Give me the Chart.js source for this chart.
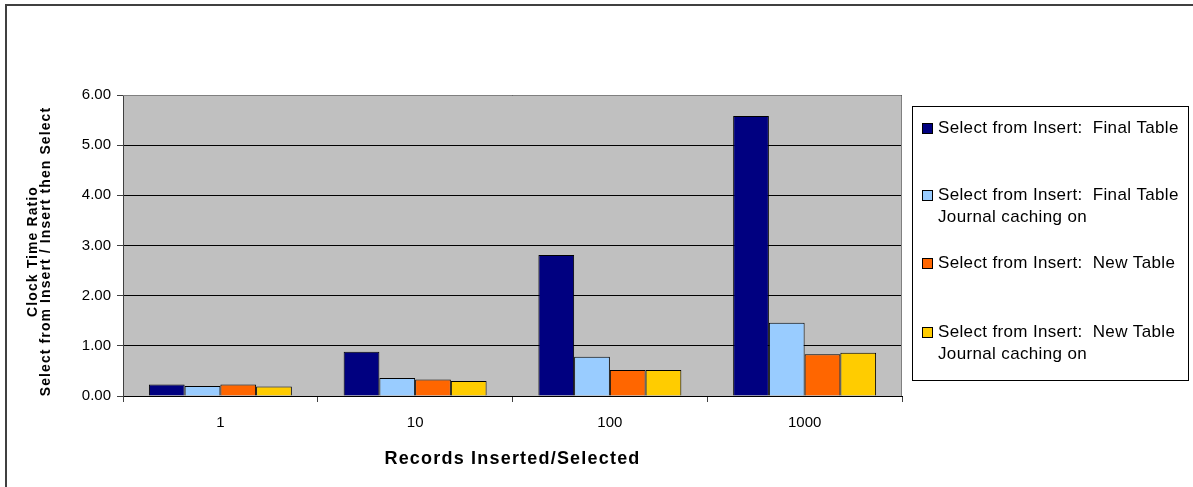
<!DOCTYPE html>
<html><head><meta charset="utf-8">
<script src="https://cdn.jsdelivr.net/npm/chart.js@4"></script>
<style>html,body{margin:0;padding:0;background:#fff;overflow:hidden}#wrap{width:1193px;height:487px;position:relative}</style>
</head><body><div id="wrap"><canvas id="c" width="1193" height="487"></canvas></div>
<script>
const categories = ['1', '10', '100', '1000'];
const seriesNames = [
  ['Select from Insert:  Final Table'],
  ['Select from Insert:  Final Table', 'Journal caching on'],
  ['Select from Insert:  New Table'],
  ['Select from Insert:  New Table', 'Journal caching on']
];
const finalTable = [0.23, 0.88, 2.81, 5.58];
const finalTableJournal = [0.20, 0.36, 0.78, 1.46];
const newTable = [0.23, 0.33, 0.52, 0.83];
const newTableJournal = [0.19, 0.30, 0.52, 0.86];
const seriesColors = ['#000080', '#99CCFF', '#FF6600', '#FFCC00'];
const yTicks = [0, 1, 2, 3, 4, 5, 6];
const yTitle = ['Clock Time Ratio', 'Select from Insert / Insert then Select'];
const xTitle = 'Records Inserted/Selected';

const FONT = '"Liberation Sans", Arial, sans-serif';
const seriesValues = [finalTable, finalTableJournal, newTable, newTableJournal];

const decor = {
  id: 'decor',
  beforeDraw(chart) {
    const { ctx, chartArea: a } = chart;
    ctx.save();
    ctx.fillStyle = '#fff';
    ctx.fillRect(0, 0, chart.width, chart.height);
    ctx.fillStyle = '#C0C0C0';
    ctx.fillRect(a.left, a.top, a.right - a.left, a.bottom - a.top);
    ctx.restore();
  },
  afterDraw(chart) {
    const { ctx, chartArea: a } = chart;
    ctx.save();
    // plot area top/right border
    ctx.strokeStyle = '#808080';
    ctx.lineWidth = 1;
    ctx.beginPath();
    ctx.moveTo(a.left, a.top + 0.5);
    ctx.lineTo(a.right - 0.5, a.top + 0.5);
    ctx.lineTo(a.right - 0.5, a.bottom);
    ctx.stroke();
    // outer frame
    ctx.strokeStyle = '#404040';
    ctx.lineWidth = 2;
    ctx.beginPath();
    ctx.moveTo(6, chart.height);
    ctx.lineTo(6, 5);
    ctx.lineTo(chart.width, 5);
    ctx.stroke();

    ctx.fillStyle = '#000';
    // x axis title
    ctx.font = 'bold 18px ' + FONT;
    ctx.letterSpacing = '1.2px';
    ctx.textAlign = 'center';
    ctx.textBaseline = 'middle';
    ctx.fillText(xTitle, (a.left + a.right) / 2, 459);
    // y axis title
    ctx.font = 'bold 14px ' + FONT;
    ctx.letterSpacing = '1.1px';
    const yc = (a.top + a.bottom) / 2 + 6;
    yTitle.forEach((t, i) => {
      ctx.save();
      ctx.translate(33 + i * 13.5, yc);
      ctx.rotate(-Math.PI / 2);
      ctx.fillText(t, 0, 0);
      ctx.restore();
    });

    // legend
    ctx.letterSpacing = '0.35px';
    ctx.lineWidth = 1;
    ctx.strokeStyle = '#000';
    ctx.strokeRect(912.5, 106.5, 276, 274);
    ctx.font = '17px ' + FONT;
    ctx.textAlign = 'left';
    const rows = [128, 195, 263, 332];
    seriesNames.forEach((lines, i) => {
      const y = rows[i];
      ctx.fillStyle = seriesColors[i];
      ctx.fillRect(922, y - 5, 11, 11);
      ctx.strokeStyle = '#000';
      ctx.strokeRect(922.5, y - 4.5, 10, 10);
      ctx.fillStyle = '#000';
      lines.forEach((ln, j) => ctx.fillText(ln, 938, y + j * 22.5));
    });
    ctx.restore();
  }
};

new Chart(document.getElementById('c'), {
  type: 'bar',
  data: {
    labels: categories,
    datasets: seriesValues.map((vals, i) => ({
      label: seriesNames[i].join(' '),
      data: vals,
      backgroundColor: seriesColors[i],
      borderColor: '#000',
      borderWidth: 1,
      categoryPercentage: 0.734,
      barPercentage: 1.0
    }))
  },
  options: {
    responsive: false,
    animation: false,
    devicePixelRatio: 1,
    layout: { padding: { left: 0, top: 95, right: 291, bottom: 0 } },
    plugins: { legend: { display: false }, tooltip: { enabled: false } },
    scales: {
      x: {
        grid: { display: true, drawOnChartArea: false, drawTicks: true, tickLength: 6, color: '#404040', offset: true },
        border: { color: '#000', width: 1 },
        ticks: { color: '#000', font: { family: FONT, size: 15 }, padding: 12 },
        afterFit(s) { s.height = 91; }
      },
      y: {
        min: 0, max: 6,
        grid: { color: '#000', tickColor: '#404040', tickLength: 6, lineWidth: 1 },
        border: { color: '#404040', width: 1 },
        ticks: { color: '#000', font: { family: FONT, size: 15 }, padding: 6, callback: v => Number(v).toFixed(2) },
        afterBuildTicks(s) { s.ticks = yTicks.map(v => ({ value: v })); },
        afterFit(s) { s.width = 123; }
      }
    }
  },
  plugins: [decor]
});
</script>
</body></html>
